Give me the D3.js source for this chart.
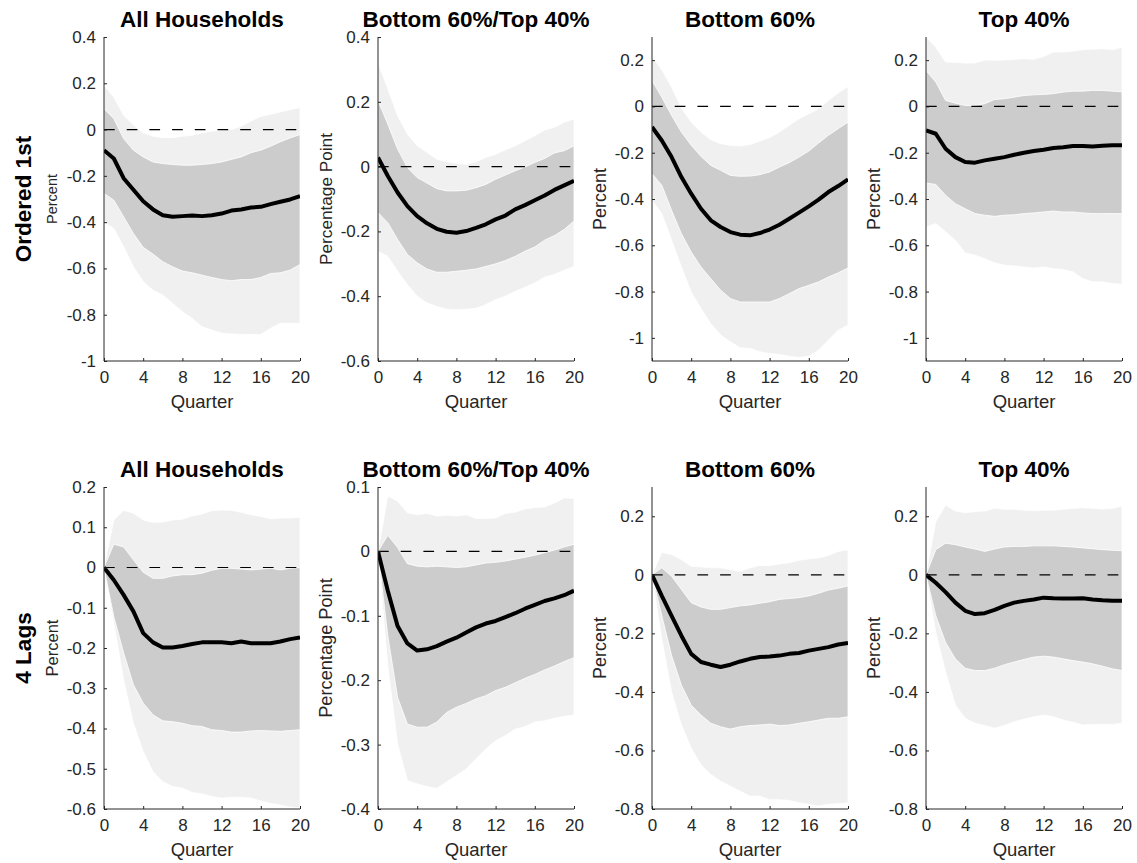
<!DOCTYPE html>
<html>
<head>
<meta charset="utf-8">
<script src="https://cdn.jsdelivr.net/npm/d3@7/dist/d3.min.js"></script>
<style>
  html, body { margin: 0; padding: 0; background: #fff; }
  svg { display: block; }
  text { font-family: "Liberation Sans", Arial, Helvetica, sans-serif; }
</style>
</head>
<body>
<svg id="chart" width="1137" height="863"></svg>
<script>
// ---------- DATA ----------
const quarters = d3.range(0, 21);
const xTicks = [0, 4, 8, 12, 16, 20];
const titles = ["All Households", "Bottom 60%/Top 40%", "Bottom 60%", "Top 40%"];
const rowLabels = ["Ordered 1st", "4 Lags"];
const yLabels = ["Percent", "Percentage Point", "Percent", "Percent"];

// Row 1: Ordered 1st
const p1_med  = [-0.089,-0.125,-0.21,-0.26,-0.31,-0.345,-0.37,-0.377,-0.374,-0.371,-0.374,-0.37,-0.363,-0.35,-0.345,-0.337,-0.334,-0.322,-0.312,-0.302,-0.288];
const p1_hi90 = [0.19,0.14,0.062,0.02,-0.014,-0.029,-0.035,-0.035,-0.029,-0.024,-0.014,-0.007,-0.003,0.0,0.014,0.037,0.057,0.066,0.076,0.086,0.095];
const p1_hi68 = [0.09,0.047,-0.039,-0.089,-0.118,-0.14,-0.147,-0.151,-0.154,-0.154,-0.151,-0.147,-0.14,-0.129,-0.118,-0.1,-0.089,-0.072,-0.053,-0.036,-0.022];
const p1_lo68 = [-0.276,-0.305,-0.377,-0.449,-0.509,-0.538,-0.571,-0.593,-0.611,-0.619,-0.629,-0.639,-0.648,-0.653,-0.648,-0.648,-0.639,-0.622,-0.619,-0.607,-0.583];
const p1_lo90 = [-0.4,-0.427,-0.506,-0.593,-0.657,-0.694,-0.715,-0.751,-0.787,-0.816,-0.852,-0.866,-0.88,-0.883,-0.885,-0.885,-0.885,-0.859,-0.837,-0.837,-0.837];

const p2_med  = [0.028,-0.029,-0.08,-0.122,-0.153,-0.175,-0.192,-0.201,-0.204,-0.199,-0.189,-0.178,-0.163,-0.151,-0.132,-0.119,-0.104,-0.089,-0.072,-0.058,-0.044];
const p2_hi90 = [0.32,0.24,0.157,0.1,0.064,0.044,0.023,0.015,0.01,0.007,0.015,0.028,0.038,0.052,0.064,0.08,0.095,0.113,0.121,0.137,0.147];
const p2_hi68 = [0.204,0.131,0.054,-0.003,-0.034,-0.051,-0.068,-0.075,-0.075,-0.073,-0.065,-0.055,-0.039,-0.026,-0.013,-0.001,0.013,0.025,0.042,0.049,0.064];
const p2_lo68 = [-0.142,-0.173,-0.225,-0.271,-0.297,-0.316,-0.326,-0.326,-0.323,-0.32,-0.316,-0.308,-0.3,-0.29,-0.277,-0.261,-0.248,-0.227,-0.213,-0.194,-0.168];
const p2_lo90 = [-0.261,-0.277,-0.323,-0.364,-0.4,-0.421,-0.432,-0.44,-0.442,-0.44,-0.437,-0.426,-0.411,-0.4,-0.385,-0.372,-0.359,-0.341,-0.333,-0.32,-0.308];

const p3_med  = [-0.089,-0.147,-0.219,-0.305,-0.377,-0.442,-0.492,-0.521,-0.543,-0.554,-0.557,-0.547,-0.532,-0.511,-0.485,-0.459,-0.432,-0.403,-0.37,-0.344,-0.315];
const p3_hi90 = [0.216,0.158,0.083,-0.006,-0.068,-0.111,-0.144,-0.161,-0.168,-0.171,-0.164,-0.15,-0.135,-0.111,-0.082,-0.053,-0.032,-0.01,0.026,0.058,0.086];
const p3_hi68 = [0.112,0.04,-0.039,-0.111,-0.168,-0.216,-0.255,-0.276,-0.298,-0.302,-0.301,-0.295,-0.283,-0.262,-0.243,-0.219,-0.193,-0.158,-0.125,-0.096,-0.068];
const p3_lo68 = [-0.291,-0.341,-0.449,-0.55,-0.629,-0.694,-0.744,-0.794,-0.83,-0.845,-0.845,-0.845,-0.845,-0.83,-0.809,-0.787,-0.773,-0.758,-0.737,-0.719,-0.698];
const p3_lo90 = [-0.406,-0.463,-0.578,-0.694,-0.802,-0.873,-0.938,-0.988,-1.017,-1.043,-1.046,-1.06,-1.068,-1.072,-1.079,-1.085,-1.079,-1.053,-1.01,-0.967,-0.945];

const p4_med  = [-0.104,-0.118,-0.183,-0.219,-0.24,-0.243,-0.233,-0.226,-0.219,-0.209,-0.2,-0.193,-0.187,-0.18,-0.176,-0.171,-0.171,-0.173,-0.17,-0.168,-0.168];
const p4_hi90 = [0.3,0.256,0.191,0.191,0.187,0.188,0.201,0.199,0.201,0.203,0.206,0.204,0.216,0.235,0.235,0.239,0.245,0.247,0.249,0.245,0.256];
const p4_hi68 = [0.155,0.105,0.026,0.014,0.004,0.004,0.012,0.03,0.033,0.04,0.047,0.05,0.052,0.055,0.062,0.066,0.066,0.069,0.069,0.066,0.063];
const p4_lo68 = [-0.331,-0.337,-0.384,-0.42,-0.442,-0.463,-0.47,-0.475,-0.47,-0.468,-0.463,-0.46,-0.456,-0.452,-0.456,-0.456,-0.46,-0.463,-0.463,-0.463,-0.463];
const p4_lo90 = [-0.521,-0.506,-0.542,-0.578,-0.633,-0.643,-0.658,-0.676,-0.686,-0.689,-0.694,-0.698,-0.694,-0.701,-0.705,-0.715,-0.744,-0.758,-0.758,-0.765,-0.768];

// Row 2: 4 Lags
const p5_med  = [0,-0.031,-0.068,-0.109,-0.163,-0.186,-0.199,-0.199,-0.195,-0.19,-0.186,-0.186,-0.186,-0.188,-0.184,-0.188,-0.188,-0.188,-0.184,-0.178,-0.174];
const p5_hi90 = [0,0.118,0.142,0.135,0.118,0.112,0.113,0.118,0.12,0.128,0.133,0.141,0.143,0.142,0.137,0.131,0.127,0.121,0.123,0.123,0.125];
const p5_hi68 = [0,0.058,0.051,0.019,-0.012,-0.027,-0.027,-0.021,-0.018,-0.018,-0.014,-0.007,-0.002,-0.002,-0.004,-0.006,-0.004,-0.002,-0.006,-0.002,0];
const p5_lo68 = [0,-0.122,-0.212,-0.291,-0.337,-0.366,-0.381,-0.383,-0.387,-0.393,-0.395,-0.403,-0.405,-0.409,-0.409,-0.406,-0.405,-0.406,-0.407,-0.405,-0.403];
const p5_lo90 = [0,-0.138,-0.279,-0.387,-0.457,-0.507,-0.532,-0.544,-0.548,-0.559,-0.562,-0.569,-0.573,-0.571,-0.571,-0.573,-0.58,-0.586,-0.59,-0.595,-0.598];

const p6_med  = [0,-0.061,-0.116,-0.143,-0.154,-0.152,-0.147,-0.14,-0.134,-0.126,-0.118,-0.112,-0.108,-0.102,-0.096,-0.089,-0.083,-0.077,-0.073,-0.068,-0.061];
const p6_hi90 = [0,0.086,0.078,0.06,0.057,0.059,0.055,0.056,0.055,0.057,0.051,0.051,0.052,0.059,0.061,0.066,0.068,0.069,0.075,0.083,0.082];
const p6_hi68 = [0,0.025,0.006,-0.019,-0.023,-0.024,-0.023,-0.024,-0.025,-0.024,-0.021,-0.018,-0.017,-0.015,-0.012,-0.009,-0.006,-0.002,0.002,0.007,0.011];
const p6_lo68 = [0,-0.131,-0.227,-0.268,-0.273,-0.273,-0.265,-0.25,-0.242,-0.236,-0.229,-0.224,-0.216,-0.211,-0.204,-0.197,-0.191,-0.184,-0.178,-0.171,-0.165];
const p6_lo90 = [0,-0.178,-0.299,-0.356,-0.361,-0.365,-0.368,-0.358,-0.348,-0.338,-0.322,-0.307,-0.294,-0.286,-0.276,-0.272,-0.265,-0.263,-0.259,-0.256,-0.254];

const p7_med  = [0,-0.072,-0.14,-0.208,-0.27,-0.298,-0.307,-0.315,-0.307,-0.296,-0.287,-0.281,-0.279,-0.276,-0.27,-0.267,-0.259,-0.253,-0.247,-0.238,-0.233];
const p7_hi90 = [0,0.077,0.069,0.052,0.029,0.027,0.024,0.024,0.018,0.012,0.024,0.032,0.032,0.037,0.041,0.05,0.054,0.058,0.066,0.08,0.086];
const p7_hi68 = [0,0.024,-0.005,-0.05,-0.095,-0.11,-0.118,-0.118,-0.112,-0.106,-0.103,-0.097,-0.092,-0.084,-0.081,-0.078,-0.072,-0.063,-0.052,-0.046,-0.038];
const p7_lo68 = [0,-0.14,-0.276,-0.377,-0.445,-0.479,-0.507,-0.519,-0.527,-0.519,-0.515,-0.513,-0.51,-0.515,-0.513,-0.507,-0.502,-0.496,-0.49,-0.49,-0.485];
const p7_lo90 = [0,-0.219,-0.4,-0.513,-0.592,-0.649,-0.682,-0.705,-0.722,-0.739,-0.756,-0.756,-0.768,-0.768,-0.771,-0.779,-0.784,-0.79,-0.784,-0.782,-0.779];

const p8_med  = [0,-0.027,-0.059,-0.095,-0.123,-0.134,-0.131,-0.12,-0.106,-0.095,-0.089,-0.084,-0.078,-0.08,-0.081,-0.081,-0.08,-0.084,-0.087,-0.089,-0.089];
const p8_hi90 = [0,0.182,0.238,0.218,0.212,0.216,0.218,0.227,0.224,0.224,0.221,0.219,0.221,0.221,0.224,0.227,0.229,0.227,0.225,0.227,0.235];
const p8_hi68 = [0,0.086,0.108,0.103,0.095,0.088,0.08,0.088,0.095,0.097,0.097,0.099,0.099,0.099,0.097,0.095,0.092,0.089,0.086,0.084,0.082];
const p8_lo68 = [0,-0.14,-0.231,-0.287,-0.319,-0.327,-0.327,-0.319,-0.307,-0.298,-0.289,-0.281,-0.278,-0.281,-0.287,-0.293,-0.298,-0.304,-0.312,-0.321,-0.327];
const p8_lo90 = [0,-0.197,-0.332,-0.445,-0.49,-0.507,-0.515,-0.524,-0.515,-0.502,-0.493,-0.485,-0.479,-0.485,-0.496,-0.504,-0.513,-0.511,-0.511,-0.511,-0.507];

// y-axis limits and tick values
const yDomains = [[-1,0.4],[-0.6,0.4],[-1.1,0.3],[-1.1,0.3],[-0.6,0.2],[-0.4,0.1],[-0.8,0.3],[-0.8,0.3]];
const yTicks = [
  [-1,-0.8,-0.6,-0.4,-0.2,0,0.2,0.4],
  [-0.6,-0.4,-0.2,0,0.2,0.4],
  [-1,-0.8,-0.6,-0.4,-0.2,0,0.2],
  [-1,-0.8,-0.6,-0.4,-0.2,0,0.2],
  [-0.6,-0.5,-0.4,-0.3,-0.2,-0.1,0,0.1,0.2],
  [-0.4,-0.3,-0.2,-0.1,0,0.1],
  [-0.8,-0.6,-0.4,-0.2,0,0.2],
  [-0.8,-0.6,-0.4,-0.2,0,0.2]
];

const panels = [
  {med:p1_med, hi90:p1_hi90, hi68:p1_hi68, lo68:p1_lo68, lo90:p1_lo90},
  {med:p2_med, hi90:p2_hi90, hi68:p2_hi68, lo68:p2_lo68, lo90:p2_lo90},
  {med:p3_med, hi90:p3_hi90, hi68:p3_hi68, lo68:p3_lo68, lo90:p3_lo90},
  {med:p4_med, hi90:p4_hi90, hi68:p4_hi68, lo68:p4_lo68, lo90:p4_lo90},
  {med:p5_med, hi90:p5_hi90, hi68:p5_hi68, lo68:p5_lo68, lo90:p5_lo90},
  {med:p6_med, hi90:p6_hi90, hi68:p6_hi68, lo68:p6_lo68, lo90:p6_lo90},
  {med:p7_med, hi90:p7_hi90, hi68:p7_hi68, lo68:p7_lo68, lo90:p7_lo90},
  {med:p8_med, hi90:p8_hi90, hi68:p8_hi68, lo68:p8_lo68, lo90:p8_lo90}
];

// ---------- LAYOUT / STYLE ----------
const colLeft = [104, 378, 652, 926];
const plotW = 196;
const rowTop = [37, 487];
const rowH = [324, 322];
const yLabelSize = [14.5, 17.2, 18, 18, 16.5, 18.2, 18, 18];
const axisColor = "#262626";
const lightFill = "#f0f0f0";
const darkFill = "#cccccc";

const svg = d3.select("#chart");
const fmt = d => (Math.abs(d) < 1e-9 ? "0" : String(+d.toFixed(2)));

panels.forEach((p, i) => {
  const r = Math.floor(i / 4), c = i % 4;
  const left = colLeft[c], top = rowTop[r], h = rowH[r];
  const x = d3.scaleLinear().domain([0, 20]).range([0, plotW]);
  const y = d3.scaleLinear().domain(yDomains[i]).range([h, 0]);
  const g = svg.append("g").attr("transform", `translate(${left},${top})`);

  const clipId = "clip" + i;
  g.append("clipPath").attr("id", clipId)
    .append("rect").attr("x", 0).attr("y", 0).attr("width", plotW).attr("height", h);

  const plot = g.append("g").attr("clip-path", `url(#${clipId})`);

  const band = (lo, hi) => d3.area()
    .x((d, k) => x(quarters[k]))
    .y0((d, k) => y(lo[k]))
    .y1((d, k) => y(hi[k]))(quarters);

  plot.append("path").attr("d", band(p.lo90, p.hi90))
    .attr("fill", lightFill).attr("stroke", "#ffffff").attr("stroke-width", 0.8);
  plot.append("path").attr("d", band(p.lo68, p.hi68))
    .attr("fill", darkFill).attr("stroke", "#ffffff").attr("stroke-width", 0.8);

  // zero line
  plot.append("line")
    .attr("x1", x(0)).attr("x2", x(20)).attr("y1", y(0)).attr("y2", y(0))
    .attr("stroke", "#000").attr("stroke-width", 1.2).attr("stroke-dasharray", "10.7,12");

  // median response
  const line = d3.line().x((d, k) => x(quarters[k])).y(d => y(d));
  plot.append("path").attr("d", line(p.med))
    .attr("fill", "none").attr("stroke", "#000").attr("stroke-width", 4)
    .attr("stroke-linejoin", "round").attr("stroke-linecap", "butt");

  // axes
  const yAxis = d3.axisLeft(y).tickValues(yTicks[i]).tickFormat(fmt).tickSize(-3).tickPadding(8).tickSizeOuter(0);
  const xAxis = d3.axisBottom(x).tickValues(xTicks).tickFormat(d3.format("d")).tickSize(-3).tickPadding(10).tickSizeOuter(0);

  const ya = g.append("g").call(yAxis);
  const xa = g.append("g").attr("transform", `translate(0,${h})`).call(xAxis);
  [ya, xa].forEach(a => {
    a.select(".domain").attr("stroke", axisColor).attr("stroke-width", 1);
    a.selectAll(".tick line").attr("stroke", axisColor);
    a.selectAll(".tick text").attr("fill", axisColor)
      .style("font-size", "17px")
      .style("font-family", '"Liberation Sans", Arial, Helvetica, sans-serif');
  });
  ya.select(".domain").attr("d", `M0,0V${h}`);
  xa.select(".domain").attr("d", `M0,0H${plotW}`);

  // title
  g.append("text").attr("x", plotW / 2).attr("y", -10)
    .attr("text-anchor", "middle").attr("fill", "#000")
    .style("font-size", "22.5px").style("font-weight", "bold")
    .text(titles[c]);

  // x label
  g.append("text").attr("x", plotW / 2).attr("y", h + 47)
    .attr("text-anchor", "middle").attr("fill", axisColor)
    .style("font-size", "18.5px")
    .text("Quarter");

  // y label
  g.append("text")
    .attr("transform", `translate(-52,${h / 2}) rotate(-90)`)
    .attr("text-anchor", "middle").attr("dy", "0.35em").attr("fill", axisColor)
    .style("font-size", yLabelSize[i] + "px")
    .text(yLabels[c]);
});

// row labels
rowLabels.forEach((t, r) => {
  svg.append("text")
    .attr("transform", `translate(23,${rowTop[r] + rowH[r] / 2}) rotate(-90)`)
    .attr("text-anchor", "middle").attr("dy", "0.35em").attr("fill", "#000")
    .style("font-size", "22.5px").style("font-weight", "bold")
    .text(t);
});
</script>
</body>
</html>
